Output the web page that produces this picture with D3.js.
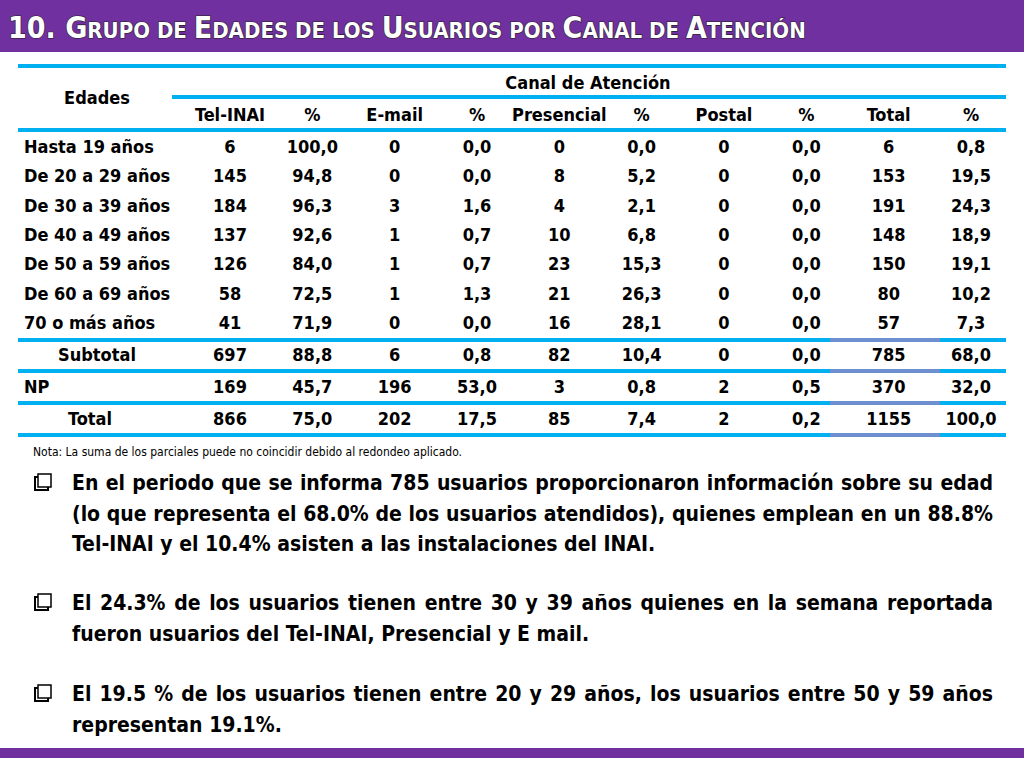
<!DOCTYPE html>
<html><head><meta charset="utf-8">
<script src="https://cdn.jsdelivr.net/npm/d3@7"></script>
<style>
body{margin:0;background:#fff}
svg{display:block}
.cell{font-family:"Liberation Sans Narrow","DejaVu Sans Condensed",sans-serif;font-weight:bold;font-size:18px;fill:#000}
.txt{font-family:"Liberation Sans Narrow","DejaVu Sans Condensed",sans-serif;font-weight:bold;font-size:21px;fill:#000}
</style></head>
<body>
<svg id="chart" width="1024" height="768"></svg>
<script>
// table data
var ages = ["Hasta 19 años","De 20 a 29 años","De 30 a 39 años","De 40 a 49 años","De 50 a 59 años","De 60 a 69 años","70 o más años","Subtotal","NP","Total"]
var headers = ["Tel-INAI","%","E-mail","%","Presencial","%","Postal","%","Total","%"]
var telInai = ["6","145","184","137","126","58","41","697","169","866"]
var telPct = ["100,0","94,8","96,3","92,6","84,0","72,5","71,9","88,8","45,7","75,0"]
var email = ["0","0","3","1","1","1","0","6","196","202"]
var emailPct = ["0,0","0,0","1,6","0,7","0,7","1,3","0,0","0,8","53,0","17,5"]
var presencial = ["0","8","4","10","23","21","16","82","3","85"]
var presPct = ["0,0","5,2","2,1","6,8","15,3","26,3","28,1","10,4","0,8","7,4"]
var postal = ["0","0","0","0","0","0","0","0","2","2"]
var postalPct = ["0,0","0,0","0,0","0,0","0,0","0,0","0,0","0,0","0,5","0,2"]
var total = ["6","153","191","148","150","80","57","785","370","1155"]
var totalPct = ["0,8","19,5","24,3","18,9","19,1","10,2","7,3","68,0","32,0","100,0"]
var columns = [telInai,telPct,email,emailPct,presencial,presPct,postal,postalPct,total,totalPct]

var bullets = [
  "En el periodo que se informa 785 usuarios proporcionaron información sobre su edad (lo que representa el 68.0% de los usuarios atendidos),  quienes emplean en un 88.8% Tel-INAI y el 10.4% asisten a las instalaciones del INAI.",
  "El 24.3% de los usuarios tienen entre 30 y 39 años quienes en la semana reportada fueron usuarios del  Tel-INAI, Presencial y E mail.",
  "El 19.5 % de los usuarios tienen entre 20 y 29 años, los usuarios entre 50 y 59 años representan 19.1%."
]

var svg = d3.select("#chart")
var purple = "#7030A0", cyan = "#00B0F0"

// title bar
svg.append("rect").attr("x",0).attr("y",0).attr("width",1024).attr("height",52).attr("fill",purple)
var title = svg.append("text").attr("x",8).attr("y",38)
  .attr("font-family","'Liberation Sans Narrow','DejaVu Sans Condensed',sans-serif").attr("font-weight","bold")
  .attr("fill","#fff").attr("stroke","#222").attr("stroke-width",1.2).attr("paint-order","stroke")
var parts = [["10. G",30],["RUPO DE  ",22],["E",30],["DADES DE LOS ",22],["U",30],["SUARIOS POR ",22],["C",30],["ANAL DE ",22],["A",30],["TENCIÓN",22]]
parts.forEach(function(p){ title.append("tspan").attr("font-size",p[1]).text(p[0]) })
svg.append("rect").attr("x",0).attr("y",748).attr("width",1024).attr("height",10).attr("fill",purple)

// scales
var x = d3.scalePoint().domain(d3.range(10)).range([230,971])
var y = d3.scaleLinear().domain([0,6,7,9]).range([147,323,355,419])

// lines
function hline(y0,x0,x1){
  svg.append("rect").attr("x",x0).attr("y",y0-2).attr("width",x1-x0).attr("height",4).attr("fill",cyan)
}
hline(66,18,1006); hline(97,172,1006); hline(130,18,1006)
;[340,371,403,435].forEach(function(v){
  hline(v,18,1006)
  svg.append("rect").attr("x",830).attr("y",v-2).attr("width",110).attr("height",4).attr("fill","#6E8FD0")
})

// headers
svg.append("text").attr("class","cell").attr("x",97).attr("y",104).attr("text-anchor","middle").text("Edades")
svg.append("text").attr("class","cell").attr("x",588).attr("y",89).attr("text-anchor","middle").text("Canal de Atención")
svg.selectAll(".hdr").data(headers).enter().append("text").attr("class","cell hdr")
  .attr("x",function(d,i){return x(i)}).attr("y",121).attr("text-anchor","middle").text(function(d){return d})

// row labels
svg.selectAll(".age").data(ages).enter().append("text").attr("class","cell age")
  .attr("x",function(d,i){return (i==7)?97:(i==9?90:24)})
  .attr("text-anchor",function(d,i){return (i==7||i==9)?"middle":"start"})
  .attr("y",function(d,i){return y(i)+6}).text(function(d){return d})

// values
columns.forEach(function(col,c){
  svg.selectAll(".v"+c).data(col).enter().append("text").attr("class","cell v"+c)
    .attr("x",x(c)).attr("y",function(d,i){return y(i)+6}).attr("text-anchor","middle")
    .text(function(d){return d})
})

svg.append("text").attr("x",33).attr("y",456).attr("font-family","'Liberation Sans Narrow','DejaVu Sans Condensed',sans-serif")
  .attr("font-size",12).text("Nota: La suma de los parciales puede no coincidir debido al redondeo aplicado.")

// justified bullets
var bulletY = [490,610,701], left = 72, right = 993, lineH = 30.5
bullets.forEach(function(b,bi){
  var g = svg.append("g")
  g.append("rect").attr("x",35).attr("y",bulletY[bi]-13).attr("width",13).attr("height",13)
    .attr("fill","none").attr("stroke","#000").attr("stroke-width",2)
  g.append("rect").attr("x",38).attr("y",bulletY[bi]-16).attr("width",13).attr("height",13)
    .attr("fill","#fff").attr("stroke","#000").attr("stroke-width",1.5)
  var words = b.split(" ").filter(function(w){return w.length})
  var probe = svg.append("text").attr("class","txt")
  function wlen(s){probe.text(s);return probe.node().getComputedTextLength()}
  var space = wlen("a a")-wlen("aa")
  var lines = [], cur = []
  words.forEach(function(w){
    var test = cur.concat([w]).join(" ")
    if(cur.length && wlen(test) > right-left){lines.push(cur);cur=[w]} else cur.push(w)
  })
  lines.push(cur)
  lines.forEach(function(ln,li){
    var ly = bulletY[bi]+li*lineH
    var widths = ln.map(wlen), sum = d3.sum(widths)
    var gap = (li<lines.length-1 && ln.length>1) ? (right-left-sum)/(ln.length-1) : space
    var cx = left
    ln.forEach(function(w,wi){
      g.append("text").attr("class","txt").attr("x",cx).attr("y",ly).text(w)
      cx += widths[wi]+gap
    })
  })
  probe.remove()
})
</script>
</body></html>
